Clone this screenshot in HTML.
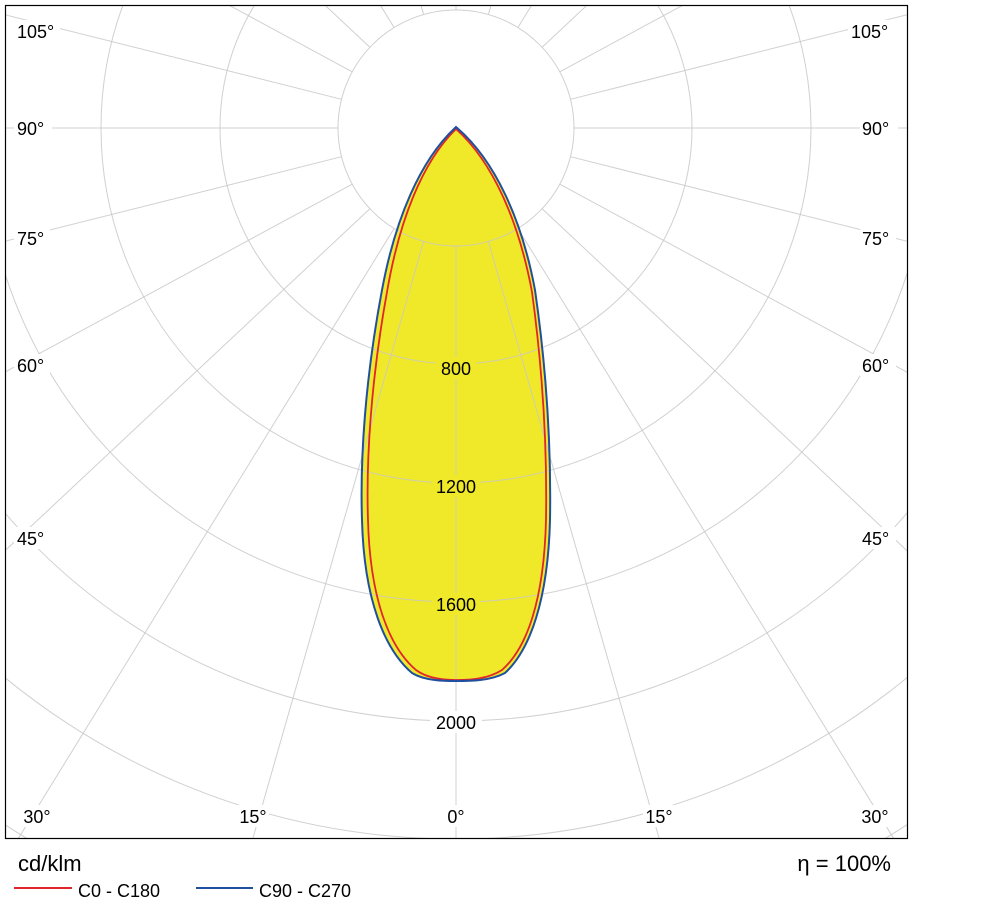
<!DOCTYPE html>
<html><head><style>html,body{margin:0;background:#fff;overflow:hidden;width:999px;height:912px}svg{display:block;overflow:hidden}</style></head><body>
<svg width="999" height="912" viewBox="0 0 999 912" xmlns="http://www.w3.org/2000/svg" font-family="Liberation Sans, DejaVu Sans, sans-serif">
<defs><clipPath id="c"><rect x="5" y="5" width="903" height="834"/></clipPath></defs>
<path d="M456,127 C420,160 395,220 382,290 C365,380 360,460 362,520 C364,600 385,650 412,673 C425,681 445,681 456,681 C470,681 490,681 505,673 C530,650 548,600 550,520 C551,460 548,380 535,290 C522,220 495,160 456,127 Z" fill="#f0e92a"/>
<g clip-path="url(#c)" stroke="#c8c8c8" stroke-opacity="0.85" stroke-width="1" fill="none">
<circle cx="456" cy="128" r="118"/>
<circle cx="456" cy="128" r="236"/>
<circle cx="456" cy="128" r="355"/>
<circle cx="456" cy="128" r="474"/>
<circle cx="456" cy="128" r="593"/>
<circle cx="456" cy="128" r="711"/>
<circle cx="456" cy="128" r="830"/>
<circle cx="456" cy="128" r="949"/>
<path d="M456,246L456,1628 M488.4,241.5L868.4,1570 M517.9,228.5L1242.7,1405 M542.1,208.7L1550.5,1153.8 M559.8,184.2L1775,841.9 M570.4,156.7L1910.8,493.4 M574,128L1956,128 M570.4,99.3L1910.8,-237.4 M559.8,71.8L1775,-585.9 M542.1,47.3L1550.5,-897.8 M517.9,27.5L1242.7,-1149 M488.4,14.5L868.4,-1314 M456,10L456,-1372
M423.6,241.5L43.6,1570 M394.1,228.5L-330.7,1405 M369.9,208.7L-638.5,1153.8 M352.2,184.2L-863,841.9 M341.6,156.7L-998.8,493.4 M338,128L-1044,128 M341.6,99.3L-998.8,-237.4 M352.2,71.8L-863,-585.9 M369.9,47.3L-638.5,-897.8 M394.1,27.5L-330.7,-1149 M423.6,14.5L43.6,-1314"/>
</g>
<path d="M456,129 C422,162 399,222 387,292 C371,380 366,460 368,520 C370,600 390,648 416,670 C428,679 445,680 456,680 C470,680 488,679 502,670 C527,648 544,600 546,520 C547,460 544,380 532,292 C519,222 493,162 456,129 Z" fill="none" stroke="#e0262a" stroke-width="1.8"/>
<path d="M456,127 C420,160 395,220 382,290 C365,380 360,460 362,520 C364,600 385,650 412,673 C425,681 445,681 456,681 C470,681 490,681 505,673 C530,650 548,600 550,520 C551,460 548,380 535,290 C522,220 495,160 456,127 Z" fill="none" stroke="#1f4f9e" stroke-width="2"/>
<rect x="5.5" y="5.5" width="902" height="833" fill="none" stroke="#000" stroke-width="1.2"/>
<g font-size="18" fill="#000">
<g text-anchor="middle">
<rect x="436" y="357" width="40" height="22" fill="#f0e92a"/><text x="456" y="375">800</text>
<rect x="432" y="475" width="48" height="22" fill="#f0e92a"/><text x="456" y="493">1200</text>
<rect x="432" y="593" width="48" height="22" fill="#f0e92a"/><text x="456" y="611">1600</text>
<rect x="430" y="711" width="52" height="22" fill="#fff"/><text x="456" y="729">2000</text>
<rect x="444" y="805" width="24" height="22" fill="#fff"/><text x="456" y="823">0°</text>
<rect x="237" y="805" width="32" height="22" fill="#fff"/><text x="253" y="823">15°</text>
<rect x="643" y="805" width="32" height="22" fill="#fff"/><text x="659" y="823">15°</text>
<rect x="21" y="805" width="32" height="22" fill="#fff"/><text x="37" y="823">30°</text>
<rect x="859" y="805" width="32" height="22" fill="#fff"/><text x="875" y="823">30°</text>
</g>
<rect x="14" y="527" width="36" height="22" fill="#fff"/><rect x="860" y="527" width="36" height="22" fill="#fff"/>
<text x="17" y="545">45°</text><text x="862" y="545">45°</text>
<rect x="14" y="354" width="36" height="22" fill="#fff"/><rect x="860" y="354" width="36" height="22" fill="#fff"/>
<text x="17" y="372">60°</text><text x="862" y="372">60°</text>
<rect x="14" y="227" width="36" height="22" fill="#fff"/><rect x="860" y="227" width="36" height="22" fill="#fff"/>
<text x="17" y="245">75°</text><text x="862" y="245">75°</text>
<rect x="14" y="118" width="38" height="22" fill="#fff"/><rect x="860" y="118" width="38" height="22" fill="#fff"/>
<text x="17" y="135">90°</text><text x="862" y="135">90°</text>
<rect x="14" y="20" width="46" height="22" fill="#fff"/><rect x="848" y="20" width="46" height="22" fill="#fff"/>
<text x="17" y="38">105°</text><text x="851" y="38">105°</text>
</g>
<text x="18" y="871" font-size="22">cd/klm</text>
<text x="891" y="871" font-size="22" text-anchor="end">η = 100%</text>
<line x1="14" y1="888" x2="72" y2="888" stroke="#e0262a" stroke-width="2"/>
<text x="78" y="897" font-size="18">C0 - C180</text>
<line x1="196" y1="888" x2="253" y2="888" stroke="#1f4f9e" stroke-width="2"/>
<text x="259" y="897" font-size="18">C90 - C270</text>
</svg>
</body></html>
